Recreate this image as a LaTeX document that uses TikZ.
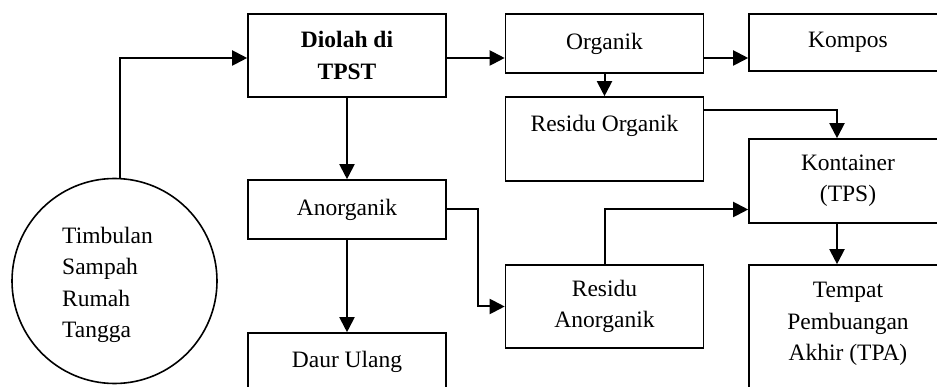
\documentclass[tikz,border=0pt]{standalone}
\usepackage{fontspec}
\setmainfont{Liberation Serif}
\usetikzlibrary{arrows.meta}

\begin{document}
\begin{tikzpicture}[x=1pt,y=-1pt,
        box/.style={draw, line width=1.6pt, minimum width=198pt, align=center, inner sep=0pt},
        arr/.style={line width=2pt, -{Triangle[length=15pt,width=15pt]}},
        font=\fontsize{23.5}{31.3}\selectfont]
        \clip (0,0) rectangle (937,387);
        \node[draw, circle, line width=1.6pt, minimum size=205pt,
            label={[align=left,xshift=-7pt,yshift=-4pt]center:Timbulan\\Sampah\\Rumah\\Tangga}] (timbulan) at (114.5,281) {};
        \node[box, minimum height=83pt] (diolah) at (347,55.5) {\textbf{Diolah di}\\\textbf{TPST}};
        \node[box, minimum height=59pt] (organik) at (604.5,43.5) {Organik};
        \node[box, minimum height=57pt] (kompos) at (848,42.5) {Kompos};
        \node[box, minimum height=84pt] (ro) at (604.5,139) {Residu Organik\\\mbox{}};
        \node[box, minimum height=84pt] (kontainer) at (848,181) {Kontainer\\(TPS)};
        \node[box, minimum height=59pt] (anorganik) at (347,209.5) {Anorganik};
        \node[box, minimum height=83pt] (ra) at (604.5,306.5) {Residu\\Anorganik};
        \node[box, minimum height=144pt] (tpa) at (848,337) {Tempat\\Pembuangan\\Akhir (TPA)\\\mbox{}};
        \node[box, minimum height=83pt] (daur) at (347,374.5) {Daur Ulang\\\mbox{}};
        \coordinate (toprow) at (0,58);
        \coordinate (rorow) at (0,110);
        \coordinate (rcol) at (837,0);
        \draw[arr] (timbulan.87) |- (toprow -| diolah.west);
        \draw[arr] (toprow -| diolah.east) -- (toprow -| organik.west);
        \draw[arr] (toprow -| organik.east) -- (toprow -| kompos.west);
        \draw[arr] (organik.south) -- (ro.north);
        \draw[arr] (diolah.south) -- (anorganik.north);
        \draw[arr] (anorganik.south) -- (daur.north);
        \draw[arr] (rorow -| ro.east) -| (rcol |- kontainer.north);
        \draw[arr] (anorganik.east) -- ++(31,0) |- (ra.west);
        \draw[arr] (ra.north) |- (anorganik.east -| kontainer.west);
        \draw[arr] (rcol |- kontainer.south) -- (rcol |- tpa.north);
    \end{tikzpicture}
\end{document}
